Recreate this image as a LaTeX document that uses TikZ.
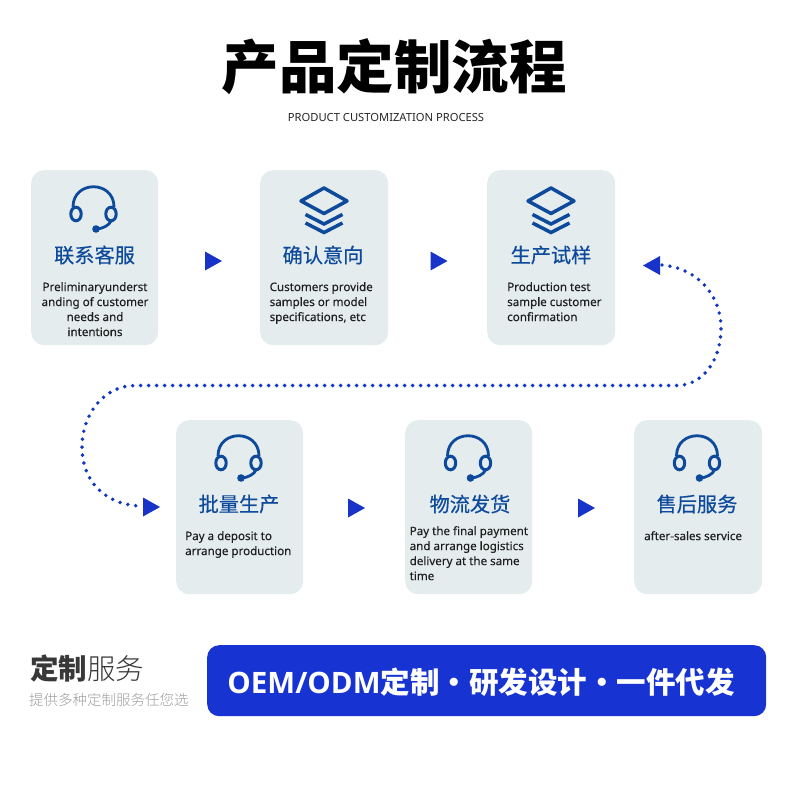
\documentclass[tikz,border=0pt]{standalone}
\usepackage{fontspec}
\setmainfont{Noto Sans}
\newfontfamily\bodyfont[FakeBold=0.2]{Noto Sans}
\newfontfamily\barfont{Open Sans}
\newfontfamily\cjk{Noto Sans CJK SC}
\newfontfamily\cjkhead[FakeBold=0.35]{Noto Sans CJK SC}
\newfontfamily\cjklight[UprightFont=* Light]{Noto Sans CJK SC}
\usetikzlibrary{calc}
\definecolor{cardbg}{HTML}{E5ECEE}
\definecolor{iconblue}{HTML}{0D4A9C}
\definecolor{arrowblue}{HTML}{1733C8}
\definecolor{barblue}{HTML}{1733D1}
\definecolor{dotblue}{HTML}{1038C0}
\tikzset{
  x=1pt,y=-1pt,
  card/.style={fill=cardbg,draw=none,rounded corners=13pt,anchor=north west,inner sep=0pt},
  head/.style={text=iconblue,font=\cjkhead\fontsize{20.2}{22}\selectfont,anchor=center,inner sep=0pt},
  body/.style={text=black!88,font=\bodyfont\fontsize{11.6}{15}\selectfont,inner sep=0pt,anchor=north west,align=left},
  bodyc/.style={body,anchor=north,align=center},
  dots/.style={dotblue,line width=3.9pt,line cap=round,dash pattern=on 0pt off 8pt},
  pics/headset/.style={code={
    \draw[iconblue,line width=3pt] (-17.5,0) ellipse (5.2pt and 6.8pt);
    \draw[iconblue,line width=3pt] (17.5,0) ellipse (5.2pt and 6.8pt);
    \draw[iconblue,line width=2.8pt] (-20.5,-7) .. controls (-20.5,-34) and (20.5,-34) .. (20.5,-7);
    \draw[iconblue,line width=2.8pt] (17.5,7) .. controls (16,11) and (9,15) .. (2.5,15);
    \fill[iconblue] (2.5,15) circle (3.8pt);
  }},
  pics/layers/.style={code={
    \draw[iconblue,line width=3.5pt,line join=round] (0,-13) -- (23,0) -- (0,12.5) -- (-23,0) -- cycle;
    \draw[iconblue,line width=3.5pt] (-18.5,13.5) -- (0,23) -- (18.5,13.5);
    \draw[iconblue,line width=3.5pt] (-18.5,22) -- (0,31.5) -- (18.5,22);
  }},
  pics/tri/.style={code={\fill[arrowblue] (-8.5,-9.5) -- (8.5,0) -- (-8.5,9.5) -- cycle;}}
}
\begin{document}
\begin{tikzpicture}
\useasboundingbox (0,0) rectangle (789,790);
\fill[white] (0,0) rectangle (789,790);

\node[inner sep=0pt,font=\cjk\bfseries\fontsize{57.5}{60}\selectfont] (title) at (394,67) {产品定制流程};
\node[inner sep=0pt,font=\fontsize{11.2}{12}\selectfont,text=black!85] (subtitle) at (386,117) {PRODUCT CUSTOMIZATION PROCESS};

\node[card,minimum width=127pt,minimum height=175pt] (c1) at (31,170) {};
\node[card,minimum width=128pt,minimum height=175pt] (c2) at (260,170) {};
\node[card,minimum width=128pt,minimum height=175pt] (c3) at (487,170) {};
\node[card,minimum width=127pt,minimum height=174pt] (c4) at (176,420) {};
\node[card,minimum width=127pt,minimum height=174pt] (c5) at (405,420) {};
\node[card,minimum width=128pt,minimum height=174pt] (c6) at (634,420) {};

\pic at (93.5,214) {headset};
\pic at (324,201) {layers};
\pic at (551,201) {layers};
\pic at (238.5,463) {headset};
\pic at (468,463) {headset};
\pic at (697,463) {headset};

\node[head] (h1) at (94.5,255) {联系客服};
\node[head] (h2) at (323,255) {确认意向};
\node[head] (h3) at (551,255) {生产试样};
\node[head] (h4) at (239,504) {批量生产};
\node[head] (h5) at (470,504) {物流发货};
\node[head] (h6) at (697,504) {售后服务};

\node[bodyc] (t1) at (95,282) {Preliminaryunderst\\anding of customer\\needs and\\intentions};
\node[body] (t2) at (269.5,282) {Customers provide\\samples or model\\specifications, etc};
\node[body] (t3) at (507,282) {Production test\\sample customer\\confirmation};
\node[body] (t4) at (185,531) {Pay a deposit to\\arrange production};
\node[body] (t5) at (409.5,526) {Pay the final payment\\and arrange logistics\\delivery at the same\\time};
\node[body] (t6) at (644,531) {after-sales service};

\pic at (213.5,261) {tri};
\pic at (439,261) {tri};
\pic at (356.5,508) {tri};
\pic at (586.5,508) {tri};

\coordinate (from) at (662,265);
\coordinate (mid) at (677,385.5);
\coordinate (midl) at (135,385.5);
\coordinate (to) at (141,506);
\draw[dots] (from) .. controls (697,268) and (721,295) .. (721,328)
  .. controls (721,360) and (703,385.5) .. (mid) -- (midl)
  .. controls (105,385.5) and (82,413) .. (82,447)
  .. controls (82,482) and (106,505) .. (to);
\pic at (151.5,507) {tri};
\pic[rotate=180] at (651.5,265.5) {tri};

\node[inner sep=0pt,anchor=west,text=black!78,font=\fontsize{28.5}{32}\selectfont] (svc) at (30,668) {{\cjk\bfseries 定制}{\cjklight 服务}};
\node[inner sep=0pt,anchor=west,text=black!38,font=\cjklight\fontsize{14.5}{16}\selectfont] (svcsub) at (29,700) {提供多种定制服务任您选};
\node[fill=barblue,rounded corners=12pt,minimum width=559pt,minimum height=71pt,inner sep=0pt,anchor=north west] (bar) at (207,645) {};
\node[inner sep=0pt,text=white,font=\fontsize{29.5}{32}\selectfont] (bartext) at (481,682) {{\barfont\bfseries OEM/ODM}{\cjk\bfseries 定制·研发设计·一件代发}};
\end{tikzpicture}
\end{document}
